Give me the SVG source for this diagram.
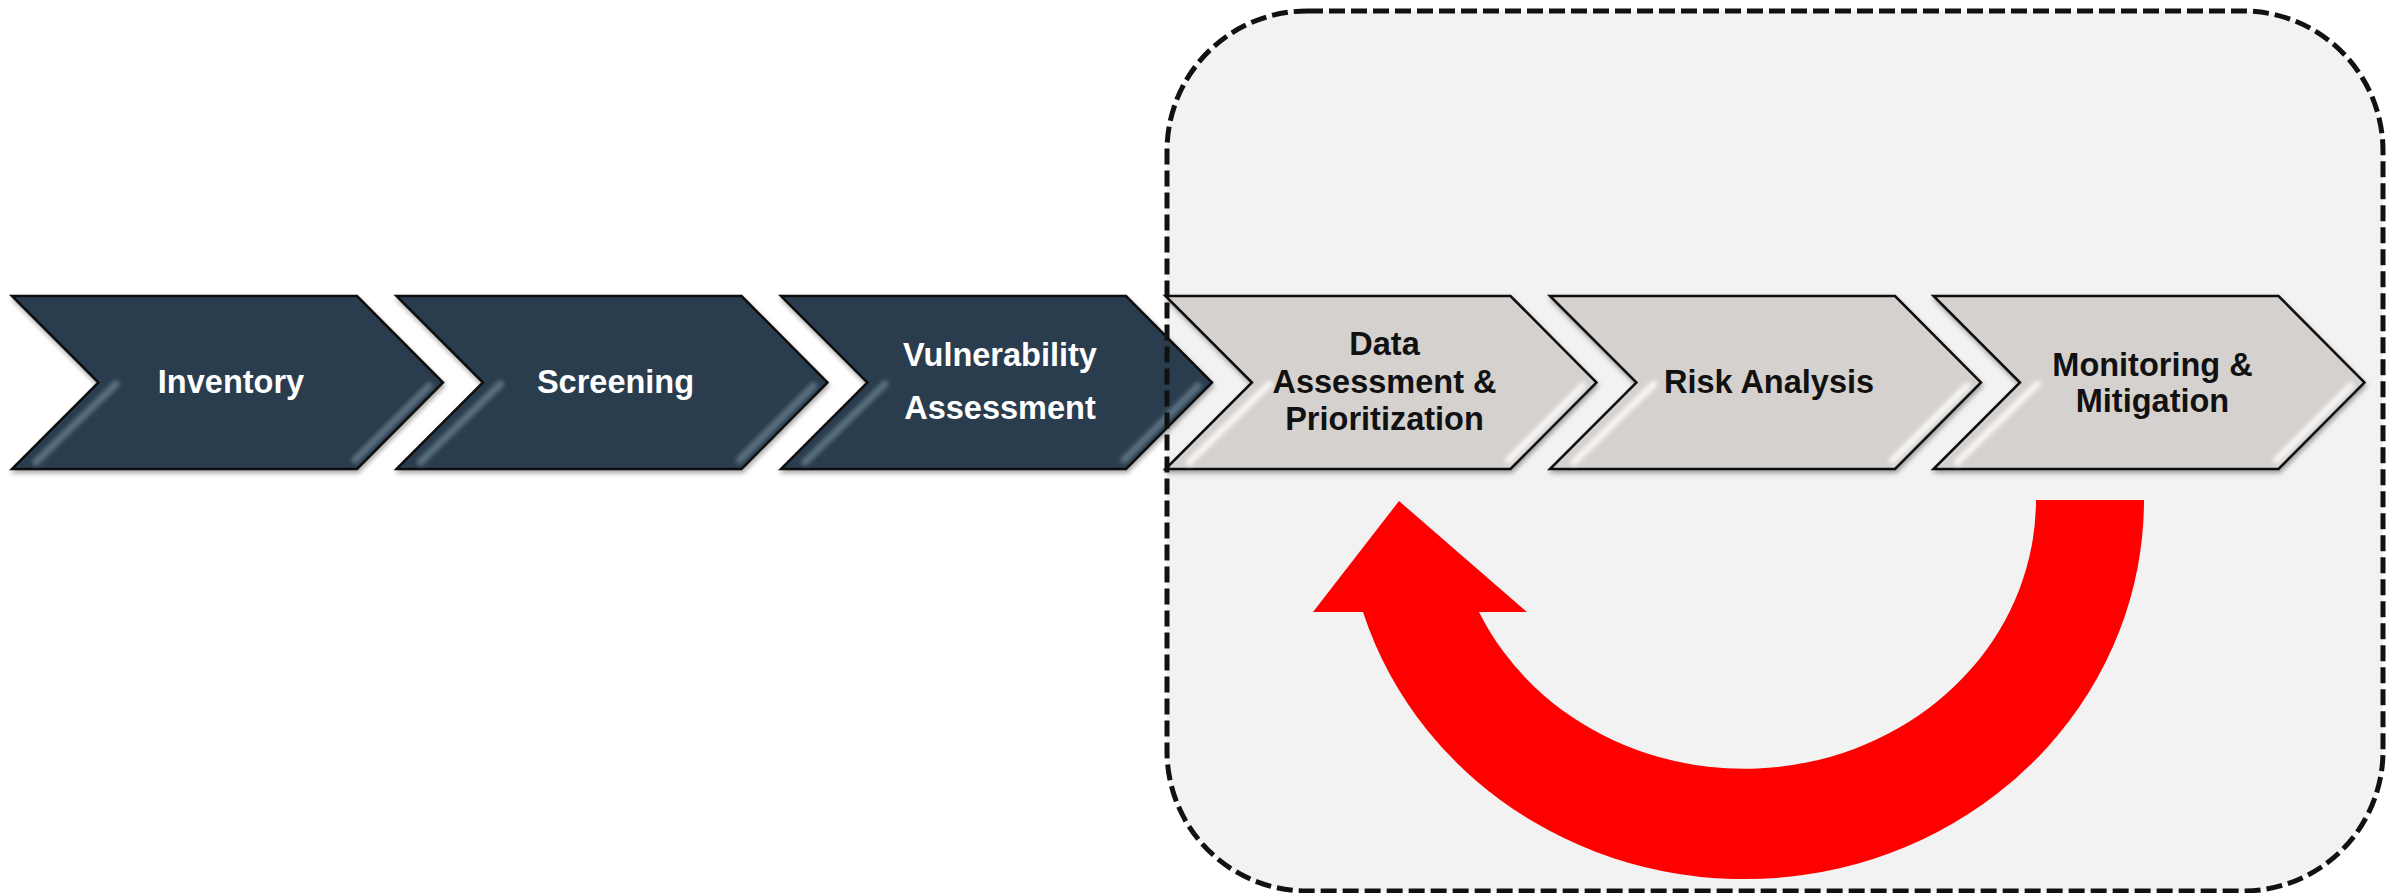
<svg xmlns="http://www.w3.org/2000/svg" width="2397" height="893" viewBox="0 0 2397 893">
  <style>
    .dark { fill: #2c3e4f; stroke: #111; stroke-width: 2.5; }
    .light { fill: #d5d1ce; stroke: #111; stroke-width: 2.5; }
    .hl-dark { fill: none; stroke: #7d94a3; stroke-width: 7; stroke-linecap: round; opacity: 0.6; }
    .hl-light { fill: none; stroke: #ffffff; stroke-width: 7; stroke-linecap: round; opacity: 0.8; }
    .top-dark { fill: none; stroke: #52677a; stroke-width: 3; opacity: 0.7; }
    .top-light { fill: none; stroke: #ecebea; stroke-width: 3; opacity: 0.9; }
    .lbl { font-family: "Liberation Sans", Arial, sans-serif; font-weight: bold; font-size: 32.5px; text-anchor: middle; }
    .lbl-w { fill: #ffffff; }
    .lbl-k { fill: #111111; }
  </style>
  <defs>
    <!-- one chevron step, origin at its top-left corner -->
    <polygon id="chev" points="0,0 345,0 431,86.5 345,173 0,173 86.5,86.5"/>
    <filter id="shadow" x="-5%" y="-10%" width="110%" height="125%">
      <feGaussianBlur in="SourceAlpha" stdDeviation="2.5"/>
      <feOffset dx="1" dy="3" result="b"/>
      <feComponentTransfer><feFuncA type="linear" slope="0.35"/></feComponentTransfer>
      <feMerge><feMergeNode/><feMergeNode in="SourceGraphic"/></feMerge>
    </filter>
    <filter id="soft" x="-10%" y="-10%" width="120%" height="120%">
      <feGaussianBlur stdDeviation="2"/>
    </filter>
  </defs>

  <rect width="2397" height="893" fill="#ffffff"/>

  <!-- shaded region behind the iterative steps -->
  <rect id="loop-area-fill" x="1167" y="11" width="1216" height="880" rx="140" ry="140" fill="#f2f2f2"/>

  <!-- process steps -->
  <g id="step-inventory" transform="translate(12,296)">
    <use href="#chev" class="dark" filter="url(#shadow)"/>
    <path class="top-dark" d="M8 5 L341 5" filter="url(#soft)"/>
    <path class="hl-dark" d="M104 88 L24 166 M417 90 L343 164" filter="url(#soft)"/>
    <text class="lbl lbl-w" x="219" y="97">Inventory</text>
  </g>
  <g id="step-screening" transform="translate(396.5,296)">
    <use href="#chev" class="dark" filter="url(#shadow)"/>
    <path class="top-dark" d="M8 5 L341 5" filter="url(#soft)"/>
    <path class="hl-dark" d="M104 88 L24 166 M417 90 L343 164" filter="url(#soft)"/>
    <text class="lbl lbl-w" x="219" y="97">Screening</text>
  </g>
  <g id="step-vulnerability" transform="translate(781,296)">
    <use href="#chev" class="dark" filter="url(#shadow)"/>
    <path class="top-dark" d="M8 5 L341 5" filter="url(#soft)"/>
    <path class="hl-dark" d="M104 88 L24 166 M417 90 L343 164" filter="url(#soft)"/>
    <text class="lbl lbl-w" x="219" y="70">Vulnerability</text>
    <text class="lbl lbl-w" x="219" y="123">Assessment</text>
  </g>
  <g id="step-data" transform="translate(1165.5,296)">
    <use href="#chev" class="light" filter="url(#shadow)"/>
    <path class="top-light" d="M8 5 L341 5" filter="url(#soft)"/>
    <path class="hl-light" d="M104 88 L24 166 M417 90 L343 164" filter="url(#soft)"/>
    <text class="lbl lbl-k" x="219" y="59">Data</text>
    <text class="lbl lbl-k" x="219" y="97">Assessment &amp;</text>
    <text class="lbl lbl-k" x="219" y="134">Prioritization</text>
  </g>
  <g id="step-risk" transform="translate(1550,296)">
    <use href="#chev" class="light" filter="url(#shadow)"/>
    <path class="top-light" d="M8 5 L341 5" filter="url(#soft)"/>
    <path class="hl-light" d="M104 88 L24 166 M417 90 L343 164" filter="url(#soft)"/>
    <text class="lbl lbl-k" x="219" y="97">Risk Analysis</text>
  </g>
  <g id="step-monitoring" transform="translate(1933.5,296)">
    <use href="#chev" class="light" filter="url(#shadow)"/>
    <path class="top-light" d="M8 5 L341 5" filter="url(#soft)"/>
    <path class="hl-light" d="M104 88 L24 166 M417 90 L343 164" filter="url(#soft)"/>
    <text class="lbl lbl-k" x="219" y="80">Monitoring &amp;</text>
    <text class="lbl lbl-k" x="219" y="116">Mitigation</text>
  </g>

  <!-- connectors: feedback loop from monitoring back to data assessment -->
  <g id="connectors">
    <path id="feedback-arrow" fill="#ff0000"
          d="M2036 500 L2144 500 A399.4 379 0 0 1 1363 612 L1313 612 L1399 501 L1527 612 L1479 612 A291.8 269 0 0 0 2036 500 Z"/>
  </g>

  <!-- dashed outline of the iterative region -->
  <rect id="loop-area-border" x="1167" y="11" width="1216" height="880" rx="140" ry="140"
        fill="none" stroke="#111" stroke-width="5" stroke-dasharray="16 6"/>
</svg>
